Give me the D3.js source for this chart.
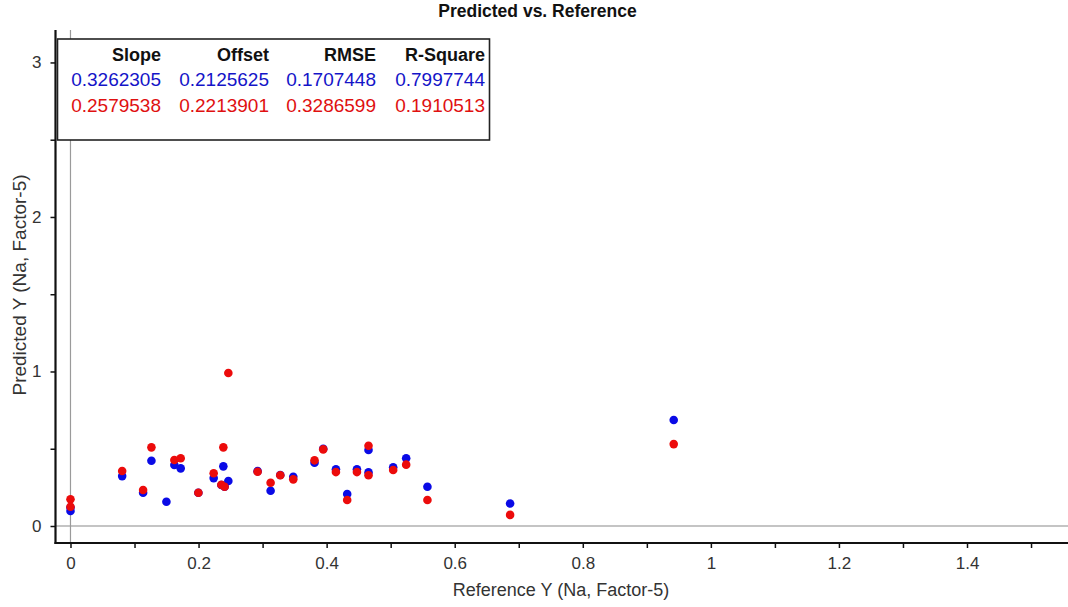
<!DOCTYPE html>
<html>
<head>
<meta charset="utf-8">
<script src="https://cdn.jsdelivr.net/npm/d3@7"></script>
<style>
  html, body { margin: 0; padding: 0; background: #fff; }
  svg { display: block; font-family: "Liberation Sans", Arial, sans-serif; }
</style>
</head>
<body>
<svg id="chart" width="1068" height="607"></svg>
<script>
// Reference values (x) shared by both models
const referenceY = [0, 0, 0.0807, 0.1134, 0.1264, 0.1498, 0.1622, 0.1721, 0.1997, 0.2236,
  0.2356, 0.2387, 0.2407, 0.2465, 0.2922, 0.3125, 0.3276, 0.3479, 0.3811, 0.3947,
  0.4145, 0.4321, 0.4473, 0.4654, 0.4654, 0.5039, 0.5242, 0.5574, 0.6865, 0.942];

// Predicted values, blue model
const predictedBlue = [0.12, 0.097, 0.323, 0.215, 0.422, 0.157, 0.395, 0.373, 0.215, 0.31,
  0.265, 0.386, 0.255, 0.291, 0.355, 0.228, 0.33, 0.319, 0.409, 0.5,
  0.367, 0.207, 0.367, 0.492, 0.347, 0.38, 0.438, 0.254, 0.146, 0.686];

// Predicted values, red model (null = no prediction for that sample)
const predictedRed = [0.173, 0.125, 0.356, 0.233, 0.509, null, 0.427, 0.438, 0.215, 0.341,
  0.267, 0.509, 0.254, 0.99, 0.351, 0.28, 0.328, 0.302, 0.425, 0.496,
  0.349, 0.168, 0.349, 0.519, 0.328, 0.362, 0.397, 0.168, 0.072, 0.53];

// Statistics table
const statHeaders = ["Slope", "Offset", "RMSE", "R-Square"];
const statsBlue = ["0.3262305", "0.2125625", "0.1707448", "0.7997744"];
const statsRed = ["0.2579538", "0.2213901", "0.3286599", "0.1910513"];

// Axis ticks
const xMajorTicks = [0, 0.2, 0.4, 0.6, 0.8, 1, 1.2, 1.4];
const xMinorTicks = [0.1, 0.3, 0.5, 0.7, 0.9, 1.1, 1.3, 1.5];
const yMajorTicks = [0, 1, 2, 3];
const yMinorTicks = [0.5, 1.5, 2.5];

const titleText = "Predicted vs. Reference";
const xTitle = "Reference Y (Na, Factor-5)";
const yTitle = "Predicted Y (Na, Factor-5)";

const BLUE = "#0a0ae6";
const RED = "#ec0b0b";
const TEXT = "#333";

const svg = d3.select("#chart");
const plotLeft = 55.5, plotRight = 1068, plotTop = 30, plotBottom = 543;

const x = d3.scaleLinear().domain([-0.0234, 1.5577]).range([plotLeft, plotRight]);
const y = d3.scaleLinear().domain([-0.11, 3.21]).range([plotBottom, plotTop]);

// Zero reference lines
svg.append("line")
  .attr("x1", plotLeft).attr("x2", plotRight)
  .attr("y1", y(0)).attr("y2", y(0))
  .attr("stroke", "#c4c4c4").attr("stroke-width", 2);
svg.append("line")
  .attr("x1", x(0)).attr("x2", x(0))
  .attr("y1", plotTop).attr("y2", plotBottom)
  .attr("stroke", "#9a9a9a").attr("stroke-width", 1.2);

// Axes
function styleAxis(g) {
  g.select(".domain").remove();
  g.selectAll(".tick line").attr("stroke", "#111").attr("stroke-width", 1.5);
  g.selectAll(".tick text")
    .attr("fill", TEXT)
    .style("font-size", "17px");
}

const xAxis = svg.append("g").attr("transform", `translate(0,${plotBottom})`)
  .call(d3.axisBottom(x).tickValues(xMajorTicks).tickSize(5).tickPadding(9)
    .tickFormat(d3.format("~g")));
styleAxis(xAxis);
const xAxisMinor = svg.append("g").attr("transform", `translate(0,${plotBottom})`)
  .call(d3.axisBottom(x).tickValues(xMinorTicks).tickSize(5).tickFormat(""));
styleAxis(xAxisMinor);

const yAxis = svg.append("g").attr("transform", `translate(${plotLeft},0)`)
  .call(d3.axisLeft(y).tickValues(yMajorTicks).tickSize(5).tickPadding(9)
    .tickFormat(d3.format("~g")));
styleAxis(yAxis);
const yAxisMinor = svg.append("g").attr("transform", `translate(${plotLeft},0)`)
  .call(d3.axisLeft(y).tickValues(yMinorTicks).tickSize(5).tickFormat(""));
styleAxis(yAxisMinor);

// Axis lines
svg.append("line")
  .attr("x1", plotLeft).attr("x2", plotLeft).attr("y1", plotTop).attr("y2", plotBottom + 1)
  .attr("stroke", "#111").attr("stroke-width", 2.2);
svg.append("line")
  .attr("x1", plotLeft - 1).attr("x2", plotRight).attr("y1", plotBottom).attr("y2", plotBottom)
  .attr("stroke", "#111").attr("stroke-width", 2.2);

// Points: blue first, red drawn over it
const samples = referenceY.map((r, i) => ({ r, blue: predictedBlue[i], red: predictedRed[i] }));
const pts = svg.append("g");
pts.selectAll("circle.blue").data(samples.filter(d => d.blue != null)).join("circle")
  .attr("class", "blue")
  .attr("cx", d => x(d.r))
  .attr("cy", d => y(d.blue))
  .attr("r", 4.3)
  .attr("fill", BLUE);
pts.selectAll("circle.red").data(samples.filter(d => d.red != null)).join("circle")
  .attr("class", "red")
  .attr("cx", d => x(d.r))
  .attr("cy", d => y(d.red))
  .attr("r", 4.3)
  .attr("fill", RED);

// Statistics box
const box = svg.append("g");
box.append("rect")
  .attr("x", 57.5).attr("y", 39).attr("width", 432).attr("height", 101)
  .attr("fill", "#fff").attr("stroke", "#222").attr("stroke-width", 1.6);
const colRight = [161, 269, 376, 485];
box.selectAll("text.hdr").data(statHeaders).join("text")
  .attr("class", "hdr")
  .attr("x", (d, i) => colRight[i]).attr("y", 61)
  .attr("text-anchor", "end")
  .style("font-size", "18px").style("font-weight", "bold")
  .attr("fill", "#111")
  .text(d => d);
box.selectAll("text.sb").data(statsBlue).join("text")
  .attr("class", "sb")
  .attr("x", (d, i) => colRight[i]).attr("y", 86)
  .attr("text-anchor", "end")
  .style("font-size", "19px")
  .attr("fill", "#1414c8")
  .text(d => d);
box.selectAll("text.sr").data(statsRed).join("text")
  .attr("class", "sr")
  .attr("x", (d, i) => colRight[i]).attr("y", 111.5)
  .attr("text-anchor", "end")
  .style("font-size", "19px")
  .attr("fill", "#e01010")
  .text(d => d);

// Titles
svg.append("text")
  .attr("x", 537.5).attr("y", 16.5)
  .attr("text-anchor", "middle")
  .style("font-size", "17.5px").style("font-weight", "bold")
  .attr("fill", "#111")
  .text(titleText);
svg.append("text")
  .attr("x", 561).attr("y", 596)
  .attr("text-anchor", "middle")
  .style("font-size", "18px")
  .attr("fill", TEXT)
  .text(xTitle);
svg.append("text")
  .attr("transform", "translate(26,285) rotate(-90)")
  .attr("text-anchor", "middle")
  .style("font-size", "19px")
  .attr("fill", TEXT)
  .text(yTitle);
</script>
</body>
</html>
